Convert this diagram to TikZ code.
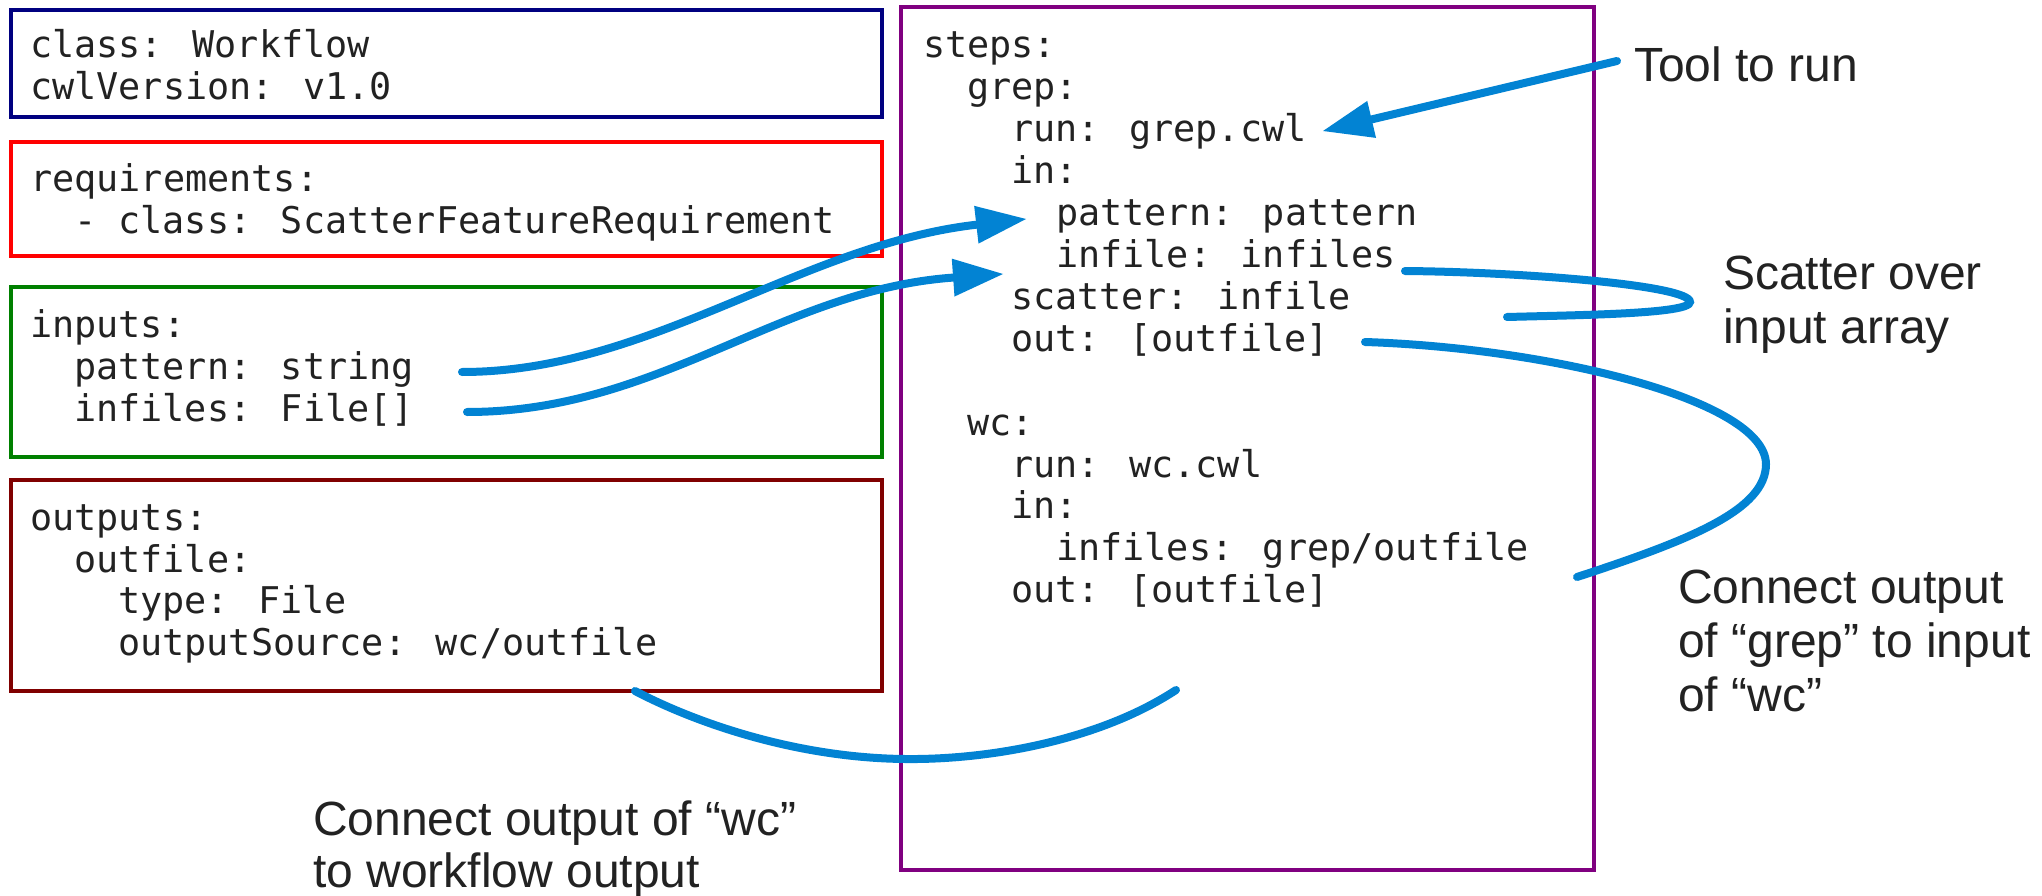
\documentclass[tikz,border=0pt]{standalone}
\usepackage{fontspec}
\setmainfont{Liberation Sans}
\newfontfamily\codefont{DejaVu Sans Mono}
\usetikzlibrary{arrows.meta}
\definecolor{cwlnavy}{RGB}{0,0,128}
\definecolor{cwlred}{RGB}{255,0,0}
\definecolor{cwlgreen}{RGB}{0,128,0}
\definecolor{cwldarkred}{RGB}{128,0,0}
\definecolor{cwlpurple}{RGB}{128,0,128}
\definecolor{cwlblue}{RGB}{2,131,211}
\definecolor{txt}{RGB}{34,34,34}
\tikzset{
  box/.style={draw=#1, line width=4pt, inner sep=0pt, outer sep=0pt, anchor=north west},
  code/.style={font=\codefont\fontsize{36.8}{42}\selectfont, text=txt, anchor=base west, inner sep=0pt},
  lbl/.style={font=\fontsize{48}{54}\selectfont, text=txt, anchor=base west, inner sep=0pt},
  conn/.style={draw=cwlblue, line width=8pt, line cap=round},
  tip/.style={-{Triangle[length=50pt,width=38pt,line width=0pt]}},
}
\begin{document}
\begin{tikzpicture}[x=1pt,y=-1pt]
\useasboundingbox (0,0) rectangle (2042,896);
% boxes
\node[box=cwlnavy, minimum width=871pt, minimum height=107pt] (wfbox) at (11,10) {};
\node[box=cwlred, minimum width=871pt, minimum height=114pt] (reqbox) at (11,142) {};
\node[box=cwlgreen, minimum width=871pt, minimum height=170pt] (inbox) at (11,287) {};
\node[box=cwldarkred, minimum width=871pt, minimum height=211pt] (outbox) at (11,480) {};
\node[box=cwlpurple, line width=3.5pt, minimum width=693pt, minimum height=863pt] (stepbox) at (901,7) {};
% left code
\node[code] (l1) at (30,58) {class: Workflow};
\node[code] (l2) at (30,99.5) {cwlVersion: v1.0};
\node[code] (l3) at (30,192) {requirements:};
\node[code] (l4) at (74,233.5) {- class: ScatterFeatureRequirement};
\node[code] (l5) at (30,337) {inputs:};
\node[code] (l6) at (74,379) {pattern: string};
\node[code] (l7) at (74,421) {infiles: File[]};
\node[code] (l8) at (30,530) {outputs:};
\node[code] (l9) at (74,572) {outfile:};
\node[code] (l10) at (118,613.5) {type: File};
\node[code] (l11) at (118,655) {outputSource: wc/outfile};
% right code
\node[code] (r1) at (923,58) {steps:};
\node[code] (r2) at (967,99.9) {grep:};
\node[code] (r3) at (1011,141.8) {run: grep.cwl};
\node[code] (r4) at (1011,183.7) {in:};
\node[code] (r5) at (1056,225.6) {pattern: pattern};
\node[code] (r6) at (1056,267.5) {infile: infiles};
\node[code] (r7) at (1011,309.4) {scatter: infile};
\node[code] (r8) at (1011,351.3) {out: [outfile]};
\node[code] (r9) at (967,435.1) {wc:};
\node[code] (r10) at (1011,477) {run: wc.cwl};
\node[code] (r11) at (1011,518.9) {in:};
\node[code] (r12) at (1056,560.8) {infiles: grep/outfile};
\node[code] (r13) at (1011,602.7) {out: [outfile]};
% labels
\node[lbl] (tool) at (1634,82) {Tool to run};
\node[lbl] (sc1) at (1723,289) {Scatter over};
\node[lbl] (sc2) at (1723,343) {input array};
\node[lbl] (co1) at (1678,603) {Connect output};
\node[lbl] (co2) at (1678,657) {of “grep” to input};
\node[lbl] (co3) at (1678,711) {of “wc”};
\node[lbl] (wo1) at (313,835) {Connect output of “wc”};
\node[lbl] (wo2) at (313,887) {to workflow output};
% connector ends
\coordinate (toolS) at (1617,61);
\coordinate (toolE) at (1323,131);
\coordinate (patS) at (462,372);
\coordinate (patE) at (1026,219);
\coordinate (infS) at (467,412);
\coordinate (infE) at (1003,274);
\coordinate (scS) at (1405,271);
\coordinate (scR) at (1690,302);
\coordinate (scE) at (1507,317);
\coordinate (goS) at (1365,342);
\coordinate (goR) at (1766,464);
\coordinate (goE) at (1577,577);
\coordinate (woS) at (1176,690);
\coordinate (woB) at (905,759);
\coordinate (woE) at (635,691);
% connectors
\draw[conn, tip] (toolS) -- (toolE);
\draw[conn, tip] (patS) .. controls (650,372) and (800,245) .. (patE);
\draw[conn, tip] (infS) .. controls (660,412) and (780,290) .. (infE);
\draw[conn] (scS) .. controls (1520,272) and (1690,285) .. (scR) .. controls (1690,314) and (1580,315) .. (scE);
\draw[conn] (goS) .. controls (1550,348) and (1765,400) .. (goR) .. controls (1766,510) and (1690,540) .. (goE);
\draw[conn] (woS) .. controls (1100,740) and (990,760) .. (woB) .. controls (800,758) and (700,725) .. (woE);
\end{tikzpicture}
\end{document}
